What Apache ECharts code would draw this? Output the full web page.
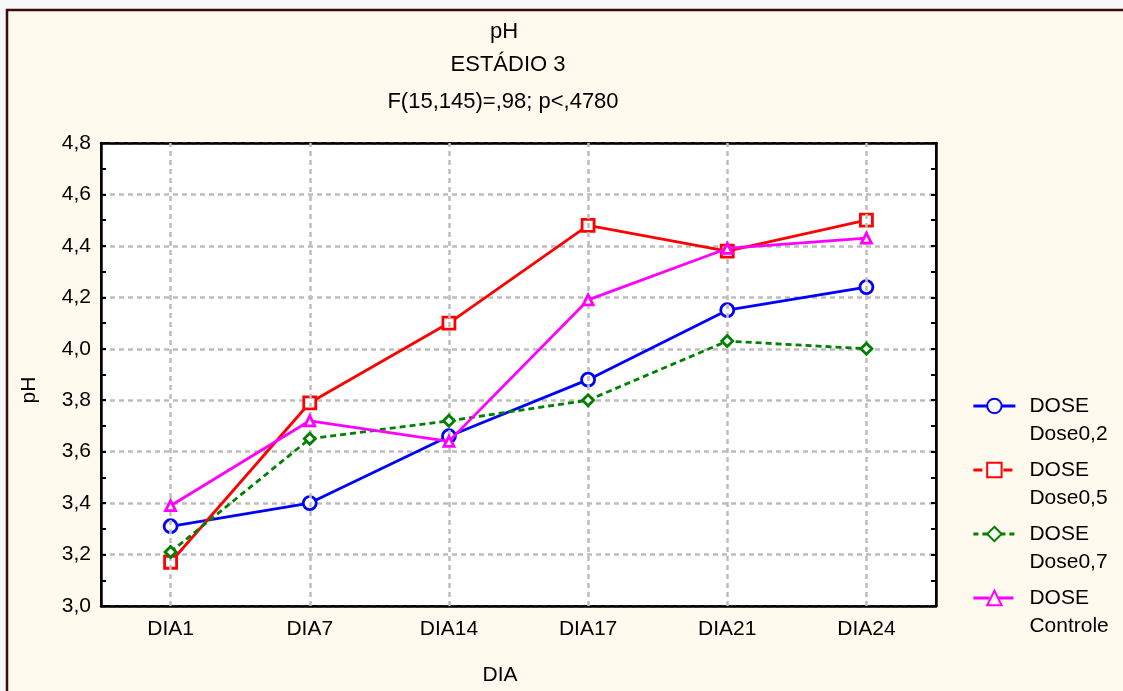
<!DOCTYPE html>
<html><head><meta charset="utf-8">
<script src="https://cdn.jsdelivr.net/npm/echarts@6/dist/echarts.min.js"></script>
<style>html,body{margin:0;padding:0;background:#f8f8f8}#c{width:1123px;height:691px}</style>
</head><body><div id="c"></div>
<script>
const categories = ['DIA1','DIA7','DIA14','DIA17','DIA21','DIA24'];
const dose02 = [3.31, 3.40, 3.66, 3.88, 4.15, 4.24];
const dose05 = [3.17, 3.79, 4.10, 4.48, 4.38, 4.50];
const dose07 = [3.21, 3.65, 3.72, 3.80, 4.03, 4.00];
const controle = [3.39, 3.72, 3.64, 4.19, 4.39, 4.43];
const seriesNames = ['Dose0,2','Dose0,5','Dose0,7','Controle'];
const titleLines = ['pH','ESTÁDIO 3','F(15,145)=,98; p<,4780'];
const yTicks = {min:3.0, max:4.8, interval:0.2};

const FONT = 'Liberation Sans, Arial, sans-serif';
const FS = 21;
const FT = 22;
const chart = echarts.init(document.getElementById('c'));
const colors = ['#0000ff','#ff0000','#008000','#ff00ff'];
const legendLineTypes = ['solid', [9,6], [5,4], [16,8]];
const symbols = ['circle','rect','diamond','triangle'];
const sizes = [13,12,11,10];
const datasets = [dose02,dose05,dose07,controle];

const series = [{
  type:'line', data:[], silent:true, z:1,
  markLine:{silent:true, symbol:'none', label:{show:false},
    lineStyle:{color:'#bdbdbd', type:[5,4], width:2.5},
    data: categories.map(c=>({xAxis:c}))}
}];
datasets.forEach((d,i)=>{
  series.push({
    name: seriesNames[i], type:'line', data:d, z:3+i,
    symbol: symbols[i], symbolSize: sizes[i],
    lineStyle:{color:colors[i], width:2.8, type: i===2?[6,4]:'solid'},
    itemStyle:{color:'#ffffff', borderColor:colors[i], borderWidth:2.8},
    emphasis:{disabled:true}
  });
});

const legends = seriesNames.map((n,i)=>({
  data:[n], orient:'vertical', left:972, top:364+i*64, padding:0,
  itemWidth:42, itemHeight:18, selectedMode:false,
  lineStyle:{type: legendLineTypes[i], width:2.8},
  formatter: name => ' \nDOSE\n' + name,
  textStyle:{fontFamily:FONT, fontSize:FS, color:'#000', lineHeight:28, padding:[0,0,0,9]}
}));

const graphics = [
  {type:'rect', shape:{x:7,y:10,width:1200,height:800}, style:{fill:'#fff9ee', stroke:'#3a0c0c', lineWidth:2.5}, z:-10, silent:true}
];
const titleY = [32, 65, 102];
const titleX = [504, 508, 503];
titleLines.forEach((t,i)=>{
  graphics.push({type:'text', x:titleX[i], y:titleY[i], style:{text:t, font:FT+'px '+FONT, fill:'#000', textAlign:'center', textVerticalAlign:'middle'}});
});
graphics.push({type:'text', x:500, y:675, style:{text:'DIA', font:FS+'px '+FONT, fill:'#000', textAlign:'center', textVerticalAlign:'middle'}});
graphics.push({type:'text', x:29, y:390, rotation:Math.PI/2, style:{text:'pH', font:FS+'px '+FONT, fill:'#000', textAlign:'center', textVerticalAlign:'middle'}});

chart.setOption({
  backgroundColor:'transparent',
  animation:false,
  grid:{left:101, right:187, top:143, bottom:85, show:true, backgroundColor:'#ffffff', borderColor:'#000', borderWidth:2, z:0},
  graphic: graphics,
  legend: legends,
  xAxis:[
    {type:'category', data:categories, boundaryGap:true, position:'bottom',
     axisLine:{lineStyle:{color:'#000', width:2.5}},
     axisTick:{alignWithLabel:true, inside:true, length:5, lineStyle:{color:'#000', width:2}},
     axisLabel:{fontFamily:FONT, fontSize:FS, color:'#000', margin:13},
     splitLine:{show:false}},
    {type:'category', data:categories, boundaryGap:true, position:'top',
     axisLine:{lineStyle:{color:'#000', width:2.5}},
     axisTick:{alignWithLabel:true, inside:true, length:5, lineStyle:{color:'#000', width:2}},
     axisLabel:{show:false}, splitLine:{show:false}}
  ],
  yAxis:[
    {type:'value', min:yTicks.min, max:yTicks.max, interval:yTicks.interval, position:'left',
     axisLine:{show:true, lineStyle:{color:'#000', width:2.5}},
     axisTick:{show:true, inside:true, length:5, lineStyle:{color:'#000', width:2}},
     minorTick:{show:true, splitNumber:2, length:5, lineStyle:{color:'#000', width:2}},
     axisLabel:{fontFamily:FONT, fontSize:FS, color:'#000', margin:10, formatter:v=>v.toFixed(1).replace('.',',')},
     splitLine:{show:true, lineStyle:{color:'#bdbdbd', type:[5,4], width:2.5}}},
    {type:'value', min:yTicks.min, max:yTicks.max, interval:yTicks.interval, position:'right',
     axisLine:{show:true, lineStyle:{color:'#000', width:2.5}},
     axisTick:{show:true, inside:true, length:5, lineStyle:{color:'#000', width:2}},
     minorTick:{show:true, splitNumber:2, length:5, lineStyle:{color:'#000', width:2}},
     axisLabel:{show:false}, splitLine:{show:false}}
  ],
  series: series
});
</script></body></html>
